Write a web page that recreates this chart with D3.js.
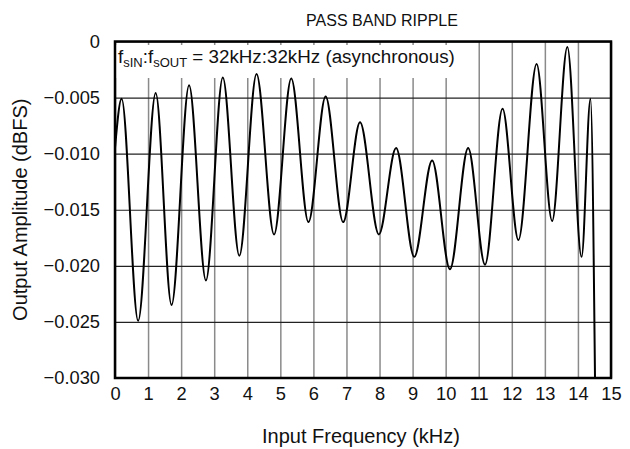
<!DOCTYPE html>
<html>
<head>
<meta charset="utf-8">
<script src="https://cdn.jsdelivr.net/npm/d3@7"></script>
<style>
  body { margin: 0; background: #fff; }
  svg { display: block; font-family: "Liberation Sans", Arial, sans-serif; }
</style>
</head>
<body>
<svg id="chart" width="630" height="449"></svg>
<script>
// extrema of the ripple curve (kHz, dBFS)
var freq = [0, 0.20, 0.70, 1.23, 1.71, 2.24, 2.75, 3.26, 3.76, 4.28, 4.81, 5.33, 5.85,
            6.37, 6.90, 7.41, 7.98, 8.50, 9.05, 9.59, 10.13, 10.68, 11.19, 11.72, 12.20,
            12.75, 13.22, 13.68, 14.11, 14.38, 14.52];
var amp = [-0.0095, -0.0051, -0.0249, -0.0046, -0.0235, -0.0039, -0.0213, -0.0032, -0.0191,
           -0.0029, -0.0172, -0.0033, -0.0161, -0.0049, -0.0161, -0.0072, -0.0172, -0.0095,
           -0.0192, -0.0106, -0.0203, -0.0095, -0.0199, -0.0060, -0.0177, -0.0020, -0.0160,
           -0.0005, -0.0192, -0.0051, -0.0310];
var xTicks = [0, 1, 2, 3, 4, 5, 6, 7, 8, 9, 10, 11, 12, 13, 14, 15];
var yTicks = [0, -0.005, -0.010, -0.015, -0.020, -0.025, -0.030];

var svg = d3.select("#chart"),
    margin = {top: 41.5, right: 19, bottom: 71, left: 115},
    width = +svg.attr("width") - margin.left - margin.right,
    height = +svg.attr("height") - margin.top - margin.bottom;

var x = d3.scaleLinear().domain([0, 15]).range([0, width]);
var y = d3.scaleLinear().domain([-0.03, 0]).range([height, 0]);

var g = svg.append("g")
    .attr("transform", "translate(" + margin.left + "," + margin.top + ")");

// vertical grid (grey)
g.append("g")
    .attr("class", "grid x")
    .attr("transform", "translate(0," + height + ")")
    .call(d3.axisBottom(x).tickValues(xTicks).tickSizeInner(-height).tickSizeOuter(0).tickFormat(""))
    .call(function(s) { s.select(".domain").remove(); })
    .selectAll("line").attr("stroke", "#8a8a8a").attr("stroke-width", 1.5);

// horizontal grid (black)
g.append("g")
    .attr("class", "grid y")
    .call(d3.axisLeft(y).tickValues(yTicks).tickSizeInner(-width).tickSizeOuter(0).tickFormat(""))
    .call(function(s) { s.select(".domain").remove(); })
    .selectAll("line").attr("stroke", "#222").attr("stroke-width", 1.1);

// white box behind the annotation
g.append("rect")
    .attr("x", 1)
    .attr("y", 3.5)
    .attr("width", x(10.45) - 1)
    .attr("height", 33)
    .attr("fill", "#fff");

var note = g.append("text")
    .attr("x", 3)
    .attr("y", 21)
    .attr("font-size", 18.8)
    .attr("fill", "#111");
note.append("tspan").text("f");
note.append("tspan").attr("font-size", 13).attr("dy", 4).text("sIN");
note.append("tspan").attr("dy", -4).text(":f");
note.append("tspan").attr("font-size", 13).attr("dy", 4).text("sOUT");
note.append("tspan").attr("dy", -4).text(" = 32kHz:32kHz (asynchronous)");

// data curve
var pts = freq.map(function(f, i) { return [f, amp[i]]; });
g.append("clipPath").attr("id", "clip")
  .append("rect").attr("width", width).attr("height", height);

g.append("path")
    .datum(pts)
    .attr("clip-path", "url(#clip)")
    .attr("fill", "none")
    .attr("stroke", "#000")
    .attr("stroke-width", 2)
    .attr("d", d3.line()
        .x(function(d) { return x(d[0]); })
        .y(function(d) { return y(d[1]); })
        .curve(d3.curveMonotoneX));

// frame
g.append("rect")
    .attr("width", width)
    .attr("height", height)
    .attr("fill", "none")
    .attr("stroke", "#000")
    .attr("stroke-width", 2.5);

// tick labels
g.append("g")
    .attr("class", "x axis")
    .attr("transform", "translate(0," + height + ")")
    .call(d3.axisBottom(x).tickValues(xTicks).tickSize(0).tickPadding(9).tickFormat(d3.format("d")))
    .call(function(s) { s.select(".domain").remove(); })
    .selectAll("text").attr("font-size", 18.3).attr("fill", "#111")
    .attr("font-family", "Liberation Sans, Arial, sans-serif");

g.append("g")
    .attr("class", "y axis")
    .call(d3.axisLeft(y).tickValues(yTicks).tickSize(0).tickPadding(15)
        .tickFormat(function(d) { return d === 0 ? "0" : d3.format(".3f")(d); }))
    .call(function(s) { s.select(".domain").remove(); })
    .selectAll("text").attr("font-size", 18.3).attr("fill", "#111")
    .attr("font-family", "Liberation Sans, Arial, sans-serif");

// titles
svg.append("text")
    .attr("x", 382)
    .attr("y", 26)
    .attr("text-anchor", "middle")
    .attr("font-size", 16)
    .attr("fill", "#111")
    .text("PASS BAND RIPPLE");

svg.append("text")
    .attr("x", 361)
    .attr("y", 443)
    .attr("text-anchor", "middle")
    .attr("font-size", 20)
    .attr("fill", "#111")
    .text("Input Frequency (kHz)");

svg.append("text")
    .attr("transform", "translate(27," + (margin.top + height / 2) + ") rotate(-90)")
    .attr("text-anchor", "middle")
    .attr("font-size", 20)
    .attr("fill", "#111")
    .text("Output Amplitude (dBFS)");
</script>
</body>
</html>
